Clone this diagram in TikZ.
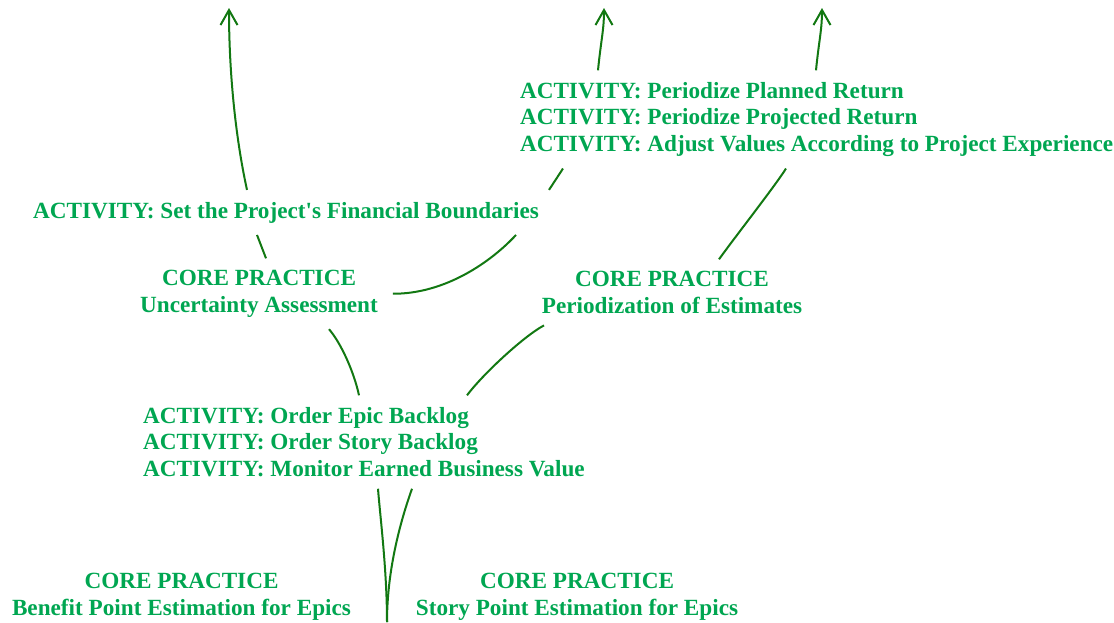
\documentclass[tikz,border=0pt]{standalone}
\usepackage{fontspec}
\setmainfont{Liberation Serif}
\usetikzlibrary{arrows.meta}
\definecolor{txtgreen}{RGB}{0,166,81}
\definecolor{linegreen}{RGB}{18,120,18}
\tikzset{
  lbl/.style={text=txtgreen, font=\bfseries\fontsize{23.2}{26.5}\selectfont, inner sep=0pt, outer xsep=15pt, outer ysep=12pt},
  conn/.style={draw=linegreen, line width=2pt},
  uparrow/.style={conn, -{Straight Barb[length=15pt,width=17pt]}},
}
\begin{document}
\begin{tikzpicture}[x=1pt,y=-1pt]
\useasboundingbox (0,0) rectangle (1114,622);
% nodes
\node[lbl, anchor=base] (setfin) at (286,218) {ACTIVITY: Set the Project\textquotesingle s Financial Boundaries};
\node[lbl, anchor=north, align=center] (unc) at (259,258.3) {CORE PRACTICE\\Uncertainty Assessment};
\node[lbl, anchor=north west, align=left] (tr) at (505,70.3) {ACTIVITY: Periodize Planned Return\\ACTIVITY: Periodize Projected Return\\ACTIVITY: Adjust Values According to Project Experience};
\node[lbl, anchor=north, align=center] (period) at (672,259.3) {CORE PRACTICE\\Periodization of Estimates};
\node[lbl, anchor=north west, align=left] (mid) at (128,395.3) {ACTIVITY: Order Epic Backlog\\ACTIVITY: Order Story Backlog\\ACTIVITY: Monitor Earned Business Value};
\node[lbl, anchor=north, align=center] (benefit) at (181.5,561.3) {CORE PRACTICE\\Benefit Point Estimation for Epics};
\node[lbl, anchor=north, align=center] (story) at (577,561.3) {CORE PRACTICE\\Story Point Estimation for Epics};
% free ends
\coordinate (tip1) at (229,8);
\coordinate (tip2) at (604,8);
\coordinate (tip3) at (822,8);
\coordinate (base) at (387,622);
% connectors
\draw[conn] (266,0 |- unc.north) -- (257,0 |- setfin.south);
\draw[uparrow] (247,0 |- setfin.north) .. controls (235,135) and (229,70) .. (tip1);
\draw[conn] (unc.east) .. controls (445,294) and (491,262) .. (516,0 |- setfin.south);
\draw[conn] (549,0 |- setfin.north) -- (563,0 |- tr.south);
\draw[uparrow] (598,0 |- tr.north) .. controls (601,40) and (604,30) .. (tip2);
\draw[conn] (719,0 |- period.north) .. controls (735,237) and (775,186) .. (786,0 |- tr.south);
\draw[uparrow] (816,0 |- tr.north) .. controls (819,40) and (822,30) .. (tip3);
\draw[conn] (359,0 |- mid.north) .. controls (354,372) and (341,343) .. (329,0 |- unc.south);
\draw[conn] (467,0 |- mid.north) .. controls (483,374) and (524,336) .. (544,0 |- period.south);
\draw[conn] (base) .. controls (387,570) and (380,515) .. (378,0 |- mid.south);
\draw[conn] (base) .. controls (387,575) and (398,528) .. (412,0 |- mid.south);
\end{tikzpicture}
\end{document}
